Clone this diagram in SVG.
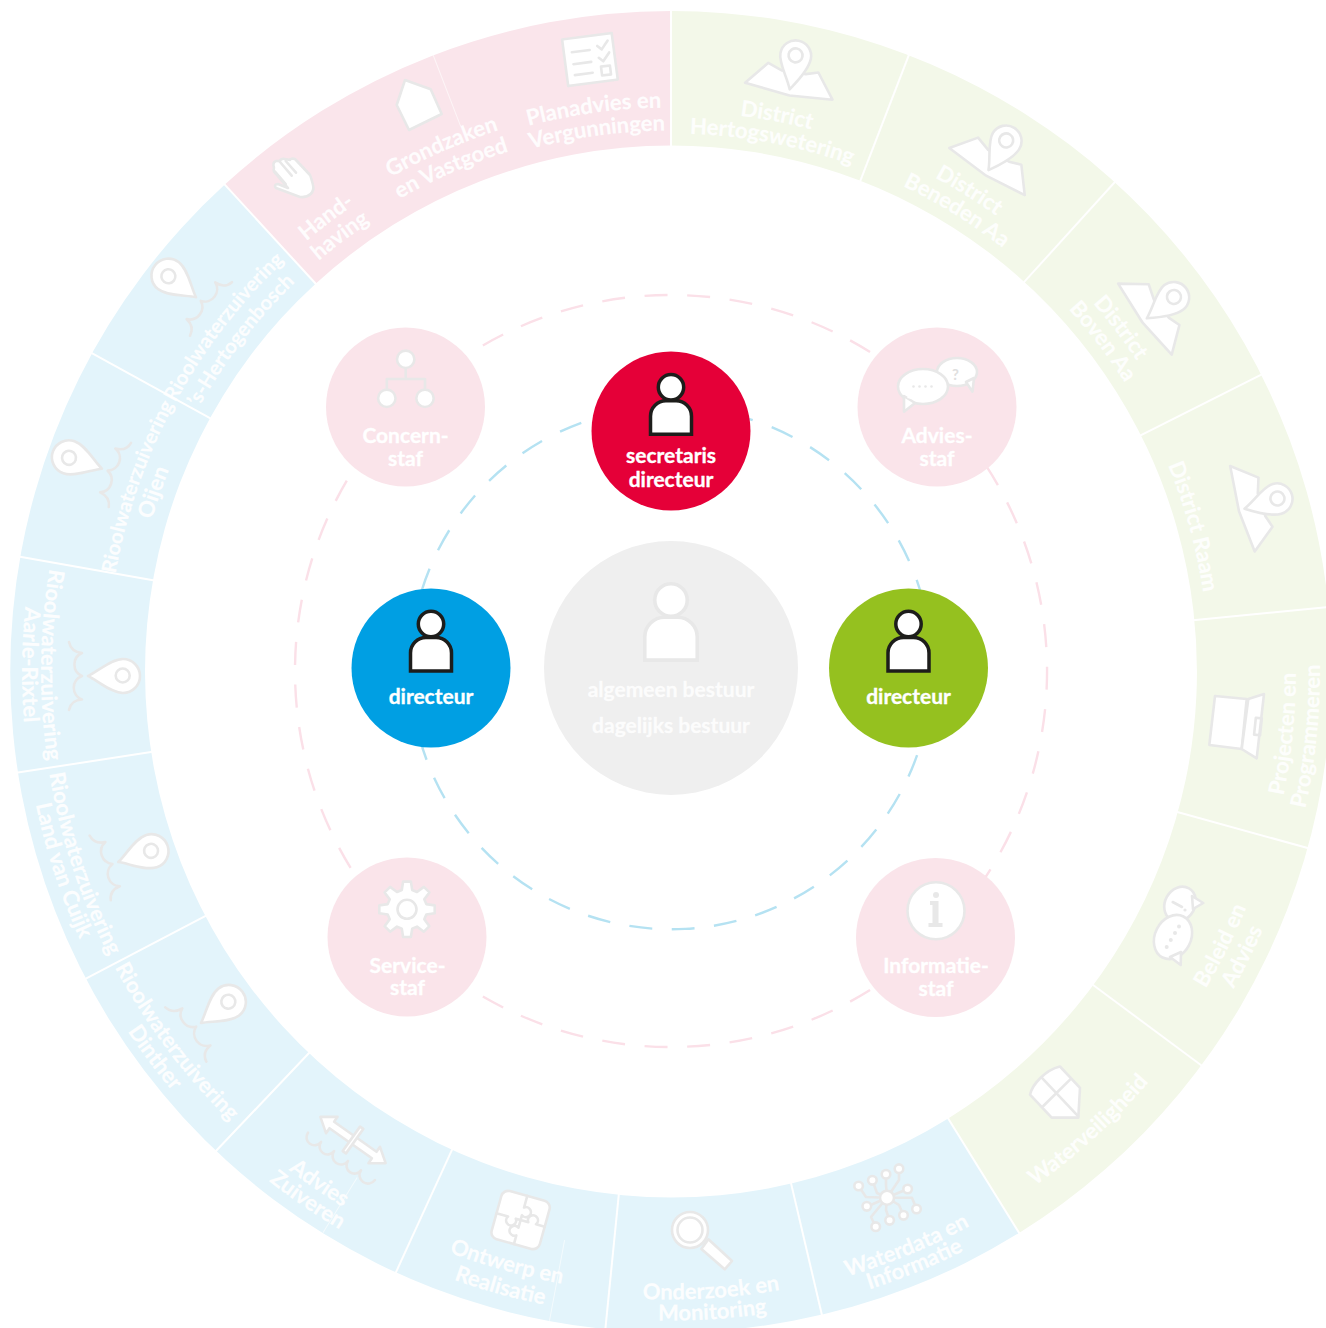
<svg xmlns="http://www.w3.org/2000/svg" width="1326" height="1328" viewBox="0 0 1326 1328">
<style>
.ring-sep{stroke:#fff;stroke-width:2}
.faint{stroke:#fff;stroke-width:1;stroke-opacity:.6}
.t{font-family:"Lato","Noto Sans",sans-serif;font-weight:700;font-size:22px;fill:#fff;fill-opacity:.92;stroke:#fff;stroke-opacity:.6;stroke-width:.3;text-anchor:middle}
.r1{font-size:20.2px}
.r2{font-size:21.7px}
.n{font-family:"Lato","Noto Sans",sans-serif;font-weight:700;font-size:21px;fill:#fff;stroke:#fff;stroke-width:.35;text-anchor:middle}
.ic{fill:#fff;stroke:#e8e8e8;stroke-width:2.6;stroke-linejoin:round}
.ln{fill:none;stroke:#e8e8e8;stroke-width:2.6;stroke-linecap:round;stroke-linejoin:round}
.dot{fill:#e8e8e8;stroke:none}
.pd{fill:#fff;stroke:#1d1d1b;stroke-width:3.5}
.pg{fill:#fff;stroke:#e8e8e8;stroke-width:2.8}
.dash-p{fill:none;stroke:#fbe0e8;stroke-width:2.4;stroke-dasharray:23 19.6}
.dash-b{fill:none;stroke:#b5e2f2;stroke-width:2.4;stroke-dasharray:23 20.3}
.staf{fill:#fae4ea}
</style>
<defs>
<path id="c538" d="M133,671.5A538,538 0 0 1 1209,671.5"/>
<path id="c541" d="M130,671.5A541,541 0 0 1 1212,671.5"/>
<path id="c543" d="M128,671.5A543,543 0 0 1 1214,671.5"/>
<path id="c545" d="M126,671.5A545,545 0 0 1 1216,671.5"/>
<path id="c560" d="M111,671.5A560,560 0 0 1 1231,671.5"/>
<path id="c564" d="M107,671.5A564,564 0 0 1 1235,671.5"/>
<path id="c568" d="M103,671.5A568,568 0 0 1 1239,671.5"/>
<path id="a622" d="M49,671.5A622,622 0 0 0 1293,671.5"/>
<path id="a625" d="M46,671.5A625,625 0 0 0 1296,671.5"/>
<path id="a628" d="M43,671.5A628,628 0 0 0 1299,671.5"/>
<path id="a630" d="M41,671.5A630,630 0 0 0 1301,671.5"/>
<path id="a646" d="M25,671.5A646,646 0 0 0 1317,671.5"/>
<path id="a649" d="M22,671.5A649,649 0 0 0 1320,671.5"/>
<path id="a652" d="M19,671.5A652,652 0 0 0 1323,671.5"/>
<g id="pinmap">
<path class="ic" d="M-42,14L-23,-10L-8,-5L16,-6L28,-10L47,14L4,18Z"/>
<path class="ic" d="M3,12C-2,0 -13,-12 -13,-22A15.5,15.5 0 1 1 18,-22C18,-12 9,3 3,12Z"/>
<circle class="ic" cx="2.3" cy="-22.5" r="7"/>
</g>
<g id="pinwave">
<path class="ic" d="M0,15C-4,6 -17,-8 -17,-20A17,17 0 1 1 17,-20C17,-8 4,6 0,15Z"/>
<circle class="ic" cx="-.5" cy="-19.7" r="7"/>
<path class="ln" d="M-34,34Q-24,32 -23,21A12.5,12.5 0 0 0 0,21A12.5,12.5 0 0 0 23.5,21Q24,32 34,34"/>
</g>
<g id="person">
<path d="M-20.5,47V29A15.5,15.5 0 0 1 -5,13.5H5A15.5,15.5 0 0 1 20.5,29V47Z"/>
<circle r="12.7"/>
</g>
</defs>

<g id="ring">
<path fill="#f3f8e9" d="M671,11A660.5,660.5 0 0 1 1019.1,1232.9L948.2,1118.5A526,526 0 0 0 671,145.5Z"/>
<path fill="#e3f4fb" d="M1019.1,1232.9A660.5,660.5 0 0 1 224.8,184.5L315.6,283.7A526,526 0 0 0 948.2,1118.5Z"/>
<path fill="#fae5eb" d="M224.8,184.5A660.5,660.5 0 0 1 671,11L671,145.5A526,526 0 0 0 315.6,283.7Z"/>
<g class="ring-sep">
<line x1="671" y1="9" x2="671" y2="147"/>
<line x1="671" y1="9" x2="671" y2="147" transform="rotate(21.1 671 671.5)"/>
<line x1="671" y1="9" x2="671" y2="147" transform="rotate(42.2 671 671.5)"/>
<line x1="671" y1="9" x2="671" y2="147" transform="rotate(63.3 671 671.5)"/>
<line x1="671" y1="9" x2="671" y2="147" transform="rotate(84.4 671 671.5)"/>
<line x1="671" y1="9" x2="671" y2="147" transform="rotate(105.5 671 671.5)"/>
<line x1="671" y1="9" x2="671" y2="147" transform="rotate(126.6 671 671.5)"/>
<line x1="671" y1="9" x2="671" y2="147" transform="rotate(148.2 671 671.5)"/>
<line x1="671" y1="9" x2="671" y2="147" transform="rotate(166.8 671 671.5)"/>
<line x1="671" y1="9" x2="671" y2="147" transform="rotate(185.7 671 671.5)"/>
<line x1="671" y1="9" x2="671" y2="147" transform="rotate(204.6 671 671.5)"/>
<line x1="671" y1="9" x2="671" y2="147" transform="rotate(223.5 671 671.5)"/>
<line x1="671" y1="9" x2="671" y2="147" transform="rotate(242.3 671 671.5)"/>
<line x1="671" y1="9" x2="671" y2="147" transform="rotate(261.2 671 671.5)"/>
<line x1="671" y1="9" x2="671" y2="147" transform="rotate(280 671 671.5)"/>
<line x1="671" y1="9" x2="671" y2="147" transform="rotate(298.8 671 671.5)"/>
<line x1="671" y1="9" x2="671" y2="147" transform="rotate(317.5 671 671.5)"/>
</g>
<g class="faint">
<line x1="671" y1="11" x2="671" y2="87" transform="rotate(338.9 671 671.5)"/>
<line x1="671" y1="11" x2="671" y2="93" transform="rotate(190.6 671 671.5)"/>
<line x1="671" y1="11" x2="671" y2="76" transform="rotate(211.8 671 671.5)"/>
</g>
</g>

<g id="connectors">
<path class="dash-p" d="M414.6,396A376,376 0 0 1 936.9,405.1"/>
<path class="dash-p" d="M414.6,946A376,376 0 0 0 936.9,936.9"/>
<path class="dash-p" d="M397.8,412.7A376,376 0 0 0 405.1,936.9"/>
<path class="dash-p" d="M931.7,400A376,376 0 0 1 936.9,936.9"/>
<path class="dash-b" d="M687.8,407.5A261,261 0 0 1 932,668"/>
<path class="dash-b" d="M666,407A261,261 0 0 0 410,668"/>
<path class="dash-b" style="stroke-dasharray:23 19.5" d="M411.5,696.2A261,261 0 0 0 932,668"/>
</g>

<g id="seg-planadvies">
<g transform="translate(590,60) rotate(-7.5)">
<rect class="ic" x="-25" y="-24" width="50" height="47"/>
<path class="ln" d="M-17,-10H1M-17,2H1M-17,13H1M9,-13l4,4l7,-8M9,-1l4,4l7,-8"/>
<rect class="ln" x="10" y="8" width="9" height="9"/>
</g>
<text class="t" transform="rotate(-7.8 671 671.5)"><textPath href="#c564" startOffset="50%">Planadvies en</textPath></text>
<text class="t" transform="rotate(-7.8 671 671.5)"><textPath href="#c541" startOffset="50%">Vergunningen</textPath></text>
</g>
<g id="seg-grondzaken">
<polygon class="ic" points="405,80 430.7,89.3 441.7,114 409,130 396.7,105"/>
<text class="t" transform="rotate(-23.6 671 671.5)"><textPath href="#c568" startOffset="50%">Grondzaken</textPath></text>
<text class="t" transform="rotate(-23.6 671 671.5)"><textPath href="#c545" startOffset="50%">en Vastgoed</textPath></text>
</g>
<g id="seg-handhaving">
<path class="ic" d="M276,188L300,197C309,198 315,192 313,185C312,181 311,177 310,175L295,159C292,158 290,159 290,160L285,159C282,158 280,160 280,161L276,161C273,162 273,165 274,168C273,170 274,172 276,174L288,188L278,184C275,184 274,186 276,188Z"/>
<path class="ln" d="M280,162L291.7,175.7M285.7,161L296,172.7M275,171.7L285.7,184"/>
<text class="t" transform="rotate(-37.2 671 671.5)"><textPath href="#c564" startOffset="50%">Hand-</textPath></text>
<text class="t" transform="rotate(-37.2 671 671.5)"><textPath href="#c541" startOffset="50%">having</textPath></text>
</g>
<g id="seg-hertogswetering">
<use href="#pinmap" transform="translate(789,77) rotate(11)"/>
<text class="t" transform="rotate(10.8 671 671.5)"><textPath href="#c560" startOffset="50%">District</textPath></text>
<text class="t" transform="rotate(10.8 671 671.5)"><textPath href="#c538" startOffset="50%">Hertogswetering</textPath></text>
</g>
<g id="seg-beneden-aa">
<use href="#pinmap" transform="translate(992.3,158.3) rotate(32)"/>
<text class="t" transform="rotate(31.8 671 671.5)"><textPath href="#c560" startOffset="50%">District</textPath></text>
<text class="t" transform="rotate(31.8 671 671.5)"><textPath href="#c538" startOffset="50%">Beneden Aa</textPath></text>
</g>
<g id="seg-boven-aa">
<use href="#pinmap" transform="translate(1154.6,308.7) rotate(53)"/>
<text class="t" transform="rotate(52.6 671 671.5)"><textPath href="#c560" startOffset="50%">District</textPath></text>
<text class="t" transform="rotate(52.6 671 671.5)"><textPath href="#c538" startOffset="50%">Boven Aa</textPath></text>
</g>
<g id="seg-raam">
<use href="#pinmap" transform="translate(1255.2,502.5) rotate(74)"/>
<text class="t" transform="rotate(74.5 671 671.5)"><textPath href="#c538" startOffset="50%">District Raam</textPath></text>
</g>
<g id="seg-projecten">
<polygon class="ic" points="1215,696 1246.7,699 1241.7,749 1209.3,745"/>
<polygon class="ic" points="1248.3,699 1264,694 1256.7,758.4 1241.7,749"/>
<rect class="ln" x="1255" y="718" width="6" height="17" transform="rotate(6 1258 726)"/>
<text class="t" transform="rotate(-84.2 671 671.5)"><textPath href="#a625" startOffset="50%">Projecten en</textPath></text>
<text class="t" transform="rotate(-84.2 671 671.5)"><textPath href="#a649" startOffset="50%">Programmeren</textPath></text>
</g>
<g id="seg-beleid">
<ellipse class="ic" cx="1180" cy="904" rx="18" ry="15" transform="rotate(-60 1180 904)"/>
<polygon class="ic" points="1192,896 1203.3,903 1193,909"/>
<ellipse class="ic" cx="1173" cy="937" rx="23" ry="18" transform="rotate(-63 1173 937)"/>
<polygon class="ic" points="1170,957 1180.7,965 1181,952"/>
<path class="ln" d="M1172.7,902L1182,907"/>
<circle class="dot" cx="1185" cy="910" r="1.6"/>
<circle class="dot" cx="1166.7" cy="947" r="2"/>
<circle class="dot" cx="1170.8" cy="940" r="2"/>
<circle class="dot" cx="1175" cy="933" r="2"/>
<circle class="dot" cx="1179" cy="926.5" r="2"/>
<text class="t" transform="rotate(-63.5 671 671.5)"><textPath href="#a622" startOffset="50%">Beleid en</textPath></text>
<text class="t" transform="rotate(-63.5 671 671.5)"><textPath href="#a646" startOffset="50%">Advies</textPath></text>
</g>
<g id="seg-waterveiligheid">
<path class="ic" d="M1060,1066.5L1080,1087.8L1078.3,1117.6L1051.7,1117.6L1030,1094.7C1032,1085 1045,1070 1060,1066.5Z"/>
<path class="ln" d="M1041.7,1077.6L1078.3,1116.3M1070,1079.6L1043.3,1106"/>
<text class="t" transform="rotate(-42.3 671 671.5)"><textPath href="#a630" startOffset="50%">Waterveiligheid</textPath></text>
</g>
<g id="seg-waterdata">
<path class="ln" stroke-width="2" d="M887,1197.7L866,1197L858.6,1186M887,1197.7L877,1193L872.4,1180.3M887,1197.7L886,1185L886,1174.3M887,1197.7L899,1180L899,1168.7M887,1197.7L898,1193L907.6,1189M887,1197.7H912L916.5,1209M887,1197.7L899,1205L903.5,1215.3M887,1197.7L886,1210L889.6,1220.3M887,1197.7L871,1217L875.7,1226.7M887,1197.7L873,1204L866.8,1206.3"/>
<circle class="ic" cx="887" cy="1197.7" r="7"/>
<circle class="ic" cx="858.6" cy="1186" r="4.3"/>
<circle class="ic" cx="872.4" cy="1180.3" r="4.3"/>
<circle class="ic" cx="886" cy="1174.3" r="4.3"/>
<circle class="ic" cx="899" cy="1168.7" r="4.3"/>
<circle class="ic" cx="907.6" cy="1189" r="4.3"/>
<circle class="ic" cx="916.5" cy="1209" r="4.3"/>
<circle class="ic" cx="903.5" cy="1215.3" r="4.3"/>
<circle class="ic" cx="889.6" cy="1220.3" r="4.3"/>
<circle class="ic" cx="875.7" cy="1226.7" r="4.3"/>
<circle class="ic" cx="866.8" cy="1206.3" r="4.3"/>
<text class="t" transform="rotate(-22.3 671 671.5)"><textPath href="#a630" startOffset="50%">Waterdata en</textPath></text>
<text class="t" transform="rotate(-22.3 671 671.5)"><textPath href="#a649" startOffset="50%">Informatie</textPath></text>
</g>
<g id="seg-onderzoek">
<polygon class="ic" points="708.4,1239.3 732,1261 724.7,1269.3 701.4,1249"/>
<circle class="ic" cx="690" cy="1230" r="18"/>
<circle class="ln" cx="690" cy="1230" r="12.5"/>
<text class="t" transform="rotate(-3.7 671 671.5)"><textPath href="#a628" startOffset="50%">Onderzoek en</textPath></text>
<text class="t" transform="rotate(-3.7 671 671.5)"><textPath href="#a649" startOffset="50%">Monitoring</textPath></text>
</g>
<g id="seg-ontwerp">
<g transform="translate(520.6,1220) rotate(15.5)">
<rect class="ic" x="-25" y="-25" width="50" height="50" rx="7"/>
<path class="ln" d="M0,-25V-13a5,5 0 1 1 0,8V0V8a5,5 0 1 0 0,8V25M-25,0H-13a5,5 0 1 0 8,0H0H8a5,5 0 1 1 8,0H25"/>
</g>
<text class="t" transform="rotate(15.5 671 671.5)"><textPath href="#a622" startOffset="50%">Ontwerp en</textPath></text>
<text class="t" transform="rotate(15.5 671 671.5)"><textPath href="#a646" startOffset="50%">Realisatie</textPath></text>
</g>
<g id="seg-advies-zuiveren">
<g transform="translate(353,1140) rotate(35.3)">
<path class="ln" d="M-41,20A8,8 0 0 0 -25,20A8,8 0 0 0 -9,20A8,8 0 0 0 8,20A8,8 0 0 0 24,20A8,8 0 0 0 41,20"/>
<polygon class="ic" points="-40,0 -26,-10 -26,-4 26,-4 26,-10 40,0 26,10 26,4 -26,4 -26,10"/>
<rect class="ic" x="-2" y="-15" width="4" height="30"/>
</g>
<text class="t" transform="rotate(34.5 671 671.5)"><textPath href="#a628" startOffset="50%">Advies</textPath></text>
<text class="t" transform="rotate(34.5 671 671.5)"><textPath href="#a649" startOffset="50%">Zuiveren</textPath></text>
</g>
<g id="seg-dinther">
<use href="#pinwave" transform="translate(212.9,1014) rotate(52.9)"/>
<text class="t r2" transform="rotate(53.2 671 671.5)"><textPath href="#a630" startOffset="50%">Rioolwaterzuivering</textPath></text>
<text class="t" transform="rotate(53.2 671 671.5)"><textPath href="#a652" startOffset="50%">Dinther</textPath></text>
</g>
<g id="seg-land-van-cuijk">
<use href="#pinwave" transform="translate(132.5,857.4) rotate(71.9)"/>
<text class="t r2" transform="rotate(71.9 671 671.5)"><textPath href="#a630" startOffset="50%">Rioolwaterzuivering</textPath></text>
<text class="t" transform="rotate(71.9 671 671.5)"><textPath href="#a649" startOffset="50%">Land van Cuijk</textPath></text>
</g>
<g id="seg-aarle-rixtel">
<use href="#pinwave" transform="translate(103,676) rotate(90)"/>
<text class="t r2" transform="rotate(90.6 671 671.5)"><textPath href="#a630" startOffset="50%">Rioolwaterzuivering</textPath></text>
<text class="t" transform="rotate(90.6 671 671.5)"><textPath href="#a649" startOffset="50%">Aarle-Rixtel</textPath></text>
</g>
<g id="seg-oijen">
<use href="#pinwave" transform="translate(87.8,463.8) rotate(-70.9)"/>
<text class="t r1" transform="rotate(-70.9 671 671.5)"><textPath href="#c564" startOffset="50%">Rioolwaterzuivering</textPath></text>
<text class="t" transform="rotate(-70.9 671 671.5)"><textPath href="#c541" startOffset="50%">Oijen</textPath></text>
</g>
<g id="seg-hertogenbosch">
<use href="#pinwave" transform="translate(184.2,288) rotate(-52)"/>
<text class="t r1" transform="rotate(-52.4 671 671.5)"><textPath href="#c564" startOffset="50%">Rioolwaterzuivering</textPath></text>
<text class="t r1" transform="rotate(-52.4 671 671.5)"><textPath href="#c541" startOffset="50%">’s-Hertogenbosch</textPath></text>
</g>

<g id="node-bestuur">
<circle cx="671" cy="668" r="127" fill="#efefef"/>
<use href="#person" class="pg" transform="translate(671,600) scale(1.28)"/>
<text class="n" x="671" y="697" style="fill-opacity:.85;stroke-opacity:.6">algemeen bestuur</text>
<text class="n" x="671" y="733" style="fill-opacity:.85;stroke-opacity:.6">dagelijks bestuur</text>
</g>
<g id="node-secretaris">
<circle cx="671" cy="431" r="79.5" fill="#e50038"/>
<use href="#person" class="pd" x="671" y="387.3"/>
<text class="n" x="671" y="463">secretaris</text>
<text class="n" x="671" y="487">directeur</text>
</g>
<g id="node-directeur-blauw">
<circle cx="431" cy="668" r="79.5" fill="#009fe3"/>
<use href="#person" class="pd" x="431" y="624"/>
<text class="n" x="431" y="704">directeur</text>
</g>
<g id="node-directeur-groen">
<circle cx="908.5" cy="668" r="79.5" fill="#95c11f"/>
<use href="#person" class="pd" x="908.5" y="624"/>
<text class="n" x="908.5" y="704">directeur</text>
</g>
<g id="node-concernstaf">
<circle class="staf" cx="405.5" cy="407" r="79.5"/>
<path class="ln" d="M405.7,369V379M386.8,388V379H425V388"/>
<circle class="ic" cx="405.7" cy="359.3" r="8.7"/>
<circle class="ic" cx="386.8" cy="398.3" r="8.7"/>
<circle class="ic" cx="425" cy="398.3" r="8.7"/>
<text class="n" x="405.5" y="443">Concern-</text>
<text class="n" x="405.5" y="466">staf</text>
</g>
<g id="node-adviesstaf">
<circle class="staf" cx="937" cy="407" r="79.5"/>
<ellipse class="ic" cx="957" cy="372" rx="20" ry="14"/>
<polygon class="ic" points="966,382 972.5,391.7 974,378"/>
<text x="955.5" y="380" font-family="Lato, sans-serif" font-weight="700" font-size="15" fill="#e0e0e0" text-anchor="middle">?</text>
<ellipse class="ic" cx="923" cy="386.5" rx="25" ry="17.5"/>
<polygon class="ic" points="904,396 904,411.7 915,403"/>
<path d="M907,398 L909,395 L916,400Z" fill="#fff"/>
<circle class="dot" cx="913.5" cy="386.5" r="1.3"/>
<circle class="dot" cx="919.5" cy="386.5" r="1.3"/>
<circle class="dot" cx="925.5" cy="386.5" r="1.3"/>
<circle class="dot" cx="931.5" cy="386.5" r="1.3"/>
<text class="n" x="937" y="443">Advies-</text>
<text class="n" x="937" y="466">staf</text>
</g>
<g id="node-servicestaf">
<circle class="staf" cx="407" cy="937" r="79.5"/>
<g transform="translate(407,909.3)">
<polygon class="ic" points="-5.2,-19.3 -3.9,-27.7 3.9,-27.7 5.2,-19.3 10,-17.3 16.9,-22.4 22.4,-16.9 17.3,-10 19.3,-5.2 27.7,-3.9 27.7,3.9 19.3,5.2 17.3,10 22.4,16.9 16.9,22.4 10,17.3 5.2,19.3 3.9,27.7 -3.9,27.7 -5.2,19.3 -10,17.3 -16.9,22.4 -22.4,16.9 -17.3,10 -19.3,5.2 -27.7,3.9 -27.7,-3.9 -19.3,-5.2 -17.3,-10 -22.4,-16.9 -16.9,-22.4 -10,-17.3"/>
<circle class="ln" r="9.5"/>
</g>
<text class="n" x="407.5" y="972.5">Service-</text>
<text class="n" x="407.5" y="995">staf</text>
</g>
<g id="node-informatiestaf">
<circle class="staf" cx="935.5" cy="937.5" r="79.5"/>
<circle class="ic" cx="936" cy="910.7" r="28.5"/>
<circle class="dot" cx="936" cy="895" r="3"/>
<path class="dot" d="M930,901h8.5v22h4v4h-14v-4h4v-18h-2.5z"/>
<text class="n" x="936" y="973">Informatie-</text>
<text class="n" x="936" y="996">staf</text>
</g>
</svg>
